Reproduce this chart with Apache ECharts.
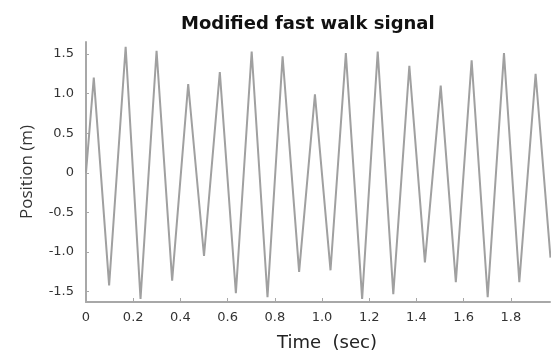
<!DOCTYPE html>
<html>
<head>
<meta charset="utf-8">
<title>Modified fast walk signal</title>
<script src="https://cdn.jsdelivr.net/npm/echarts@6/dist/echarts.min.js"></script>
<style>
  html, body { margin: 0; padding: 0; background: #fff; }
  #chart { width: 558px; height: 357px; }
</style>
</head>
<body>
<div id="chart"></div>
<script>
// turning points of the signal (time in sec, position in m)
var timeSec = [0, 0.033, 0.098, 0.168, 0.231, 0.299, 0.365, 0.433, 0.500, 0.567,
  0.635, 0.702, 0.769, 0.833, 0.903, 0.970, 1.036, 1.101, 1.170, 1.236,
  1.302, 1.370, 1.436, 1.503, 1.567, 1.634, 1.702, 1.771, 1.836, 1.905, 1.968]
var position = [0, 1.20, -1.42, 1.59, -1.59, 1.54, -1.36, 1.12, -1.05, 1.27,
  -1.52, 1.53, -1.57, 1.47, -1.25, 0.99, -1.23, 1.51, -1.59, 1.53,
  -1.53, 1.35, -1.13, 1.10, -1.38, 1.42, -1.57, 1.51, -1.38, 1.25, -1.07]

var xTicks = [0, 0.2, 0.4, 0.6, 0.8, 1.0, 1.2, 1.4, 1.6, 1.8]
var yTicks = [-1.5, -1.0, -0.5, 0, 0.5, 1.0, 1.5]

var chart = echarts.init(document.getElementById('chart'))

var seriesData = timeSec.map(function(t, i) {
  return [t, position[i]]
})

function fmt(v) {
  return v === 0 ? '0' : v.toFixed(1)
}

chart.setOption({
  animation: false,
  title: {
    text: 'Modified fast walk signal',
    left: 181,
    top: 10,
    padding: [5, 0, 5, 0],
    textStyle: {
      fontFamily: 'DejaVu Sans',
      fontWeight: 'bold',
      fontSize: 18,
      color: '#111'
    }
  },
  grid: {
    left: 86,
    right: 8,
    top: 42,
    bottom: 54
  },
  xAxis: {
    type: 'value',
    min: 0,
    max: 1.966,
    name: 'Time  (sec)',
    nameLocation: 'middle',
    nameGap: 32,
    nameTextStyle: {
      fontFamily: 'DejaVu Sans',
      fontSize: 18,
      color: '#222',
      padding: [0, 0, 0, 18]
    },
    axisLine: { onZero: false, lineStyle: { color: '#a8a8a8', width: 2 } },
    axisTick: {
      inside: true,
      length: 4,
      customValues: xTicks,
      lineStyle: { color: '#a8a8a8' }
    },
    axisLabel: {
      customValues: xTicks,
      formatter: fmt,
      margin: 9,
      fontFamily: 'DejaVu Sans',
      fontSize: 13,
      color: '#333'
    },
    splitLine: { show: false }
  },
  yAxis: {
    type: 'value',
    min: -1.63,
    max: 1.65,
    name: 'Position (m)',
    nameLocation: 'middle',
    nameRotate: 90,
    nameGap: 50,
    nameTextStyle: {
      fontFamily: 'Open Sans',
      fontSize: 17,
      color: '#333'
    },
    axisLine: { show: true, onZero: false, lineStyle: { color: '#a8a8a8', width: 2 } },
    axisTick: {
      show: true,
      inside: true,
      length: 3,
      customValues: yTicks,
      lineStyle: { color: '#a8a8a8' }
    },
    axisLabel: {
      customValues: yTicks,
      formatter: fmt,
      margin: 12,
      fontFamily: 'DejaVu Sans',
      fontSize: 13,
      color: '#333'
    },
    splitLine: { show: false }
  },
  series: [{
    type: 'line',
    data: seriesData,
    showSymbol: false,
    lineStyle: { color: '#a0a0a0', width: 2 }
  }]
})
</script>
</body>
</html>
